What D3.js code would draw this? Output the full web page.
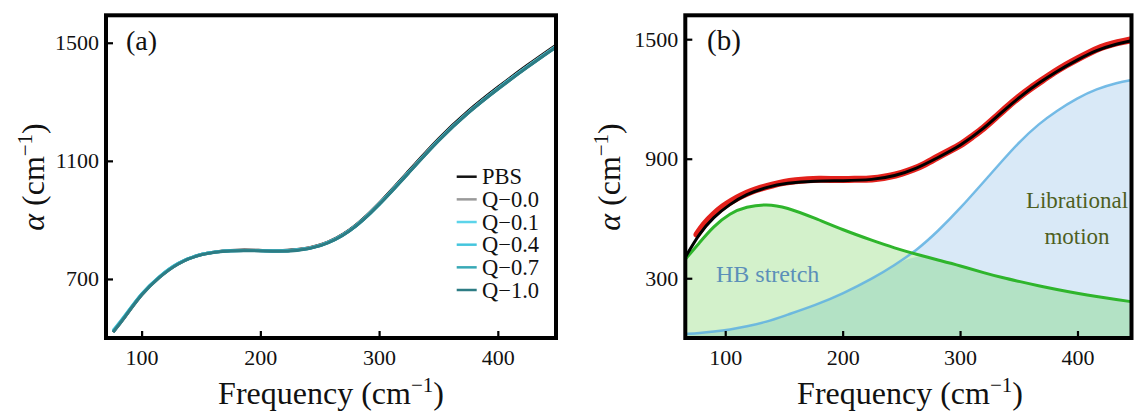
<!DOCTYPE html>
<html>
<head>
<meta charset="utf-8">
<script src="https://cdn.jsdelivr.net/npm/d3@7"></script>
<style>
  body { margin: 0; background: #fff; }
  svg text { font-family: "Liberation Serif", "Times New Roman", serif; fill: #111; }
</style>
</head>
<body>
<svg id="chart" width="1135" height="414"></svg>
<script>
// ---- panel (a): absorption of each sample ----
const freqA = [76, 85, 100, 115, 130, 150, 175, 200, 215, 230, 250, 275, 300, 325, 350, 375, 400, 425, 449];
const pbs = [520, 566, 651, 708, 754, 787, 799, 797, 795, 798, 810, 858, 954, 1066, 1177, 1271, 1350, 1425, 1492];
const q00 = [520, 565, 650, 707, 753, 786, 798, 796, 794, 797, 809, 856, 951, 1062, 1173, 1267, 1346, 1421, 1488];
const q01 = [526, 570, 654, 710, 755, 787, 798, 796, 794, 796, 808, 855, 950, 1061, 1172, 1266, 1345, 1420, 1487];
const q04 = [524, 569, 653, 709, 755, 787, 798, 796, 794, 796, 808, 855, 950, 1061, 1172, 1266, 1345, 1420, 1487];
const q07 = [522, 567, 652, 708, 754, 786, 798, 796, 794, 796, 808, 855, 950, 1060, 1171, 1265, 1344, 1419, 1486];
const q10 = [520, 565, 650, 707, 753, 786, 797, 795, 793, 795, 807, 854, 949, 1059, 1170, 1264, 1343, 1418, 1485];
const seriesNames = ["PBS", "Q\u22120.0", "Q\u22120.1", "Q\u22120.4", "Q\u22120.7", "Q\u22121.0"];
const seriesColors = ["#111111", "#9a9a9a", "#5cd4ea", "#44c5dd", "#38a9b6", "#2d7c84"];
const seriesA = [pbs, q00, q01, q04, q07, q10];

// ---- panel (b): measured data, fit and two components ----
const redF = [76, 82, 90, 98, 106, 114, 122, 130, 140, 150, 160, 170, 180, 190, 200, 210, 220, 230, 240, 250,
              260, 270, 280, 290, 300, 310, 320, 330, 340, 350, 360, 370, 380, 390, 400, 410, 420, 430, 440, 446];
const redA = [520, 572, 620, 660, 690, 716, 736, 752, 768, 782, 790, 795, 797, 796, 795, 797, 796, 801, 811, 826,
              846, 872, 906, 938, 966, 1010, 1053, 1106, 1160, 1210, 1254, 1294, 1334, 1370, 1402, 1432, 1460, 1478, 1490, 1497];
const freqB = [66, 78, 90, 104, 118, 135, 152, 177, 200, 226, 244, 263, 281, 300, 321, 336, 351, 367, 382, 400, 416, 434, 446];
const fitB = [405, 525, 607, 672, 722, 757, 778, 789, 789, 794, 813, 850, 906, 963, 1055, 1136, 1212, 1280, 1338, 1397, 1445, 1478, 1492];
const hbB = [395, 478, 560, 627, 659, 673, 657, 600, 543, 488, 452, 420, 392, 363, 326, 303, 283, 262, 244, 224, 208, 193, 182];
const libB = [20, 25, 32, 42, 58, 80, 115, 165, 222, 300, 365, 440, 535, 650, 790, 890, 988, 1075, 1140, 1205, 1250, 1282, 1295];

const xTicks = [100, 200, 300, 400];
const yTicksA = [700, 1100, 1500];
const yTicksB = [300, 900, 1500];

const svg = d3.select("#chart");
svg.append("rect").attr("width", 1135).attr("height", 414).attr("fill", "#fff");

const xA = d3.scaleLinear().domain([70, 449]).range([106, 556]);
const yA = d3.scaleLinear().domain([500, 1593]).range([338, 15.3]);
const xB = d3.scaleLinear().domain([66, 446]).range([685.3, 1131.5]);
const yB = d3.scaleLinear().domain([0, 1620]).range([338, 15.3]);

function addClip(id, x, y) {
  svg.append("clipPath").attr("id", id).append("rect")
    .attr("x", x.range()[0]).attr("y", y.range()[1])
    .attr("width", x.range()[1] - x.range()[0]).attr("height", y.range()[0] - y.range()[1]);
}
addClip("clipA", xA, yA);
addClip("clipB", xB, yB);

function drawAxes(x, y, yTicks, ylabX, titleX) {
  const gx = svg.append("g").attr("transform", `translate(0,${y.range()[0]})`)
    .call(d3.axisBottom(x).tickValues(xTicks).tickFormat(d3.format("d"))
      .tickSizeInner(-7).tickSizeOuter(0).tickPadding(11));
  const gy = svg.append("g").attr("transform", `translate(${x.range()[0]},0)`)
    .call(d3.axisLeft(y).tickValues(yTicks).tickFormat(d3.format("d"))
      .tickSizeInner(-7).tickSizeOuter(0).tickPadding(7));
  [gx, gy].forEach(g => {
    g.select(".domain").remove();
    g.selectAll(".tick line").attr("stroke", "#000").attr("stroke-width", 2.2);
    g.selectAll(".tick text").attr("font-size", 22).attr("fill", "#111");
  });
  // frame
  svg.append("rect")
    .attr("x", x.range()[0]).attr("y", y.range()[1])
    .attr("width", x.range()[1] - x.range()[0]).attr("height", y.range()[0] - y.range()[1])
    .attr("fill", "none").attr("stroke", "#000").attr("stroke-width", 4);

  // x title
  const t = svg.append("text").attr("x", titleX).attr("y", 404)
    .attr("text-anchor", "middle").attr("font-size", 32);
  t.append("tspan").text("Frequency (cm");
  t.append("tspan").attr("dy", -12).attr("font-size", 21).text("\u22121");
  t.append("tspan").attr("dy", 12).text(")");

  // y title
  const yt = svg.append("text")
    .attr("transform", `translate(${ylabX},177) rotate(-90)`)
    .attr("text-anchor", "middle").attr("font-size", 32);
  yt.append("tspan").attr("font-style", "italic").text("\u03b1");
  yt.append("tspan").text(" (cm");
  yt.append("tspan").attr("dy", -12).attr("font-size", 21).text("\u22121");
  yt.append("tspan").attr("dy", 12).text(")");
}

// ---------- panel (a) ----------
const lineA = d3.line().x((d, i) => xA(freqA[i])).y(d => yA(d)).curve(d3.curveBasis);
const gA = svg.append("g").attr("clip-path", "url(#clipA)");
seriesA.forEach((s, k) => {
  gA.append("path").attr("d", lineA(s)).attr("fill", "none")
    .attr("stroke", seriesColors[k]).attr("stroke-width", 3);
});

// legend
const legA = svg.append("g");
seriesNames.forEach((n, k) => {
  const yy = 176.7 + k * 22.66;
  legA.append("line").attr("x1", 456.7).attr("x2", 476.7).attr("y1", yy).attr("y2", yy)
    .attr("stroke", seriesColors[k]).attr("stroke-width", 2.5);
  legA.append("text").attr("x", 482).attr("y", yy + 7.5).attr("font-size", 22.5).text(n);
});

svg.append("text").attr("x", 126).attr("y", 50).attr("font-size", 28).text("(a)");
drawAxes(xA, yA, yTicksA, 44, 331);

// ---------- panel (b) ----------
const gB = svg.append("g").attr("clip-path", "url(#clipB)");
const bottomB = yB.range()[0];
const areaB = vals => d3.area().x((d, i) => xB(freqB[i])).y0(bottomB).y1(d => yB(d)).curve(d3.curveBasis)(vals);
const overlap = freqB.map((f, i) => Math.min(hbB[i], libB[i]));

gB.append("path").attr("d", areaB(libB)).attr("fill", "#d9e9f7");
gB.append("path").attr("d", areaB(hbB)).attr("fill", "#d3f1cb");
gB.append("path").attr("d", areaB(overlap)).attr("fill", "#b3e2c5");

const lineB = d3.line().x((d, i) => xB(freqB[i])).y(d => yB(d)).curve(d3.curveBasis);
gB.append("path").attr("d", lineB(libB)).attr("fill", "none")
  .attr("stroke", "#5eb0e2").attr("stroke-width", 2.5).attr("stroke-opacity", 0.85);
gB.append("path").attr("d", lineB(hbB)).attr("fill", "none")
  .attr("stroke", "#2fb52c").attr("stroke-width", 3);

const lineRed = d3.line().x((d, i) => xB(redF[i])).y(d => yB(d)).curve(d3.curveBasis);
gB.append("path").attr("d", lineRed(redA)).attr("fill", "none")
  .attr("stroke", "#e3211c").attr("stroke-width", 7).attr("stroke-linecap", "round");
gB.append("path").attr("d", lineB(fitB)).attr("fill", "none")
  .attr("stroke", "#000").attr("stroke-width", 3);

svg.append("text").attr("x", 716).attr("y", 282).attr("font-size", 24)
  .style("fill", "#5b8fb9").text("HB stretch");
svg.append("text").attr("x", 1077).attr("y", 208).attr("font-size", 23)
  .attr("text-anchor", "middle").style("fill", "#4e5f1f").text("Librational");
svg.append("text").attr("x", 1077).attr("y", 244).attr("font-size", 23)
  .attr("text-anchor", "middle").style("fill", "#4e5f1f").text("motion");

svg.append("text").attr("x", 707).attr("y", 50).attr("font-size", 29).text("(b)");
drawAxes(xB, yB, yTicksB, 620, 910);
</script>
</body>
</html>
